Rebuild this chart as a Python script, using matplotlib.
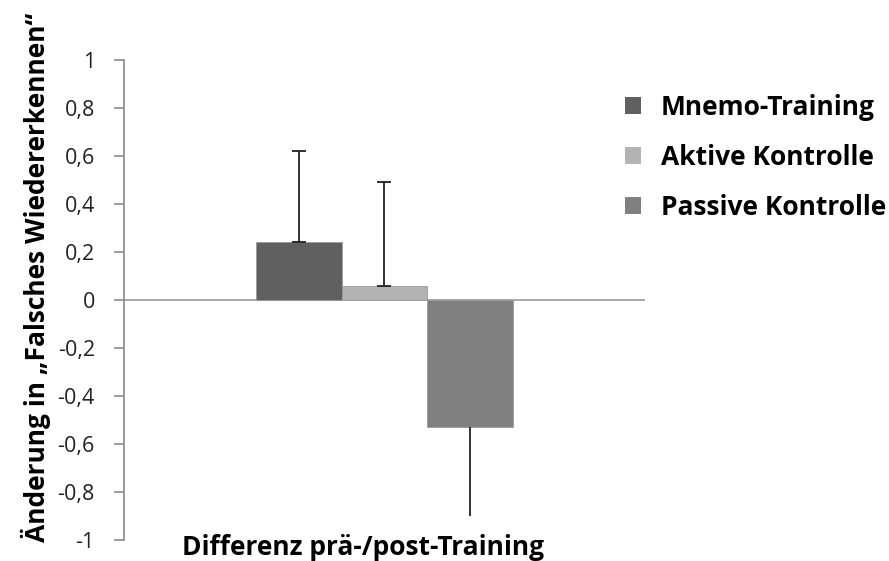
import matplotlib
matplotlib.use("Agg")
import matplotlib.pyplot as plt
from matplotlib.ticker import FuncFormatter

series = ["Mnemo-Training", "Aktive Kontrolle", "Passive Kontrolle"]
values = [0.24, 0.06, -0.53]
errors = [0.38, 0.43, 0.37]
colors = ["#606060", "#b3b3b3", "#808080"]
category = "Differenz prä-/post-Training"
y_label = "Änderung in \u201eFalsches Wiedererkennen\u201c"
y_ticks = [-1, -0.8, -0.6, -0.4, -0.2, 0, 0.2, 0.4, 0.6, 0.8, 1]

plt.rcParams['font.family'] = ['Open Sans', 'DejaVu Sans']

fig = plt.figure(figsize=(8.89, 5.61), dpi=100)
ax = fig.add_axes([0.1395, 0.0374, 0.586, 0.856])

w = 0.165
offsets = [-w, 0, w]
for name, v, e, c, o in zip(series, values, errors, colors, offsets):
    ax.bar(o, v, width=w, color=c, edgecolor="#9a9a9a", linewidth=0.6, label=name, zorder=2)
    if v >= 0:
        ax.errorbar(o, v, yerr=[[0], [e]], fmt="none", ecolor="#222222", elinewidth=1.3,
                    capsize=5, capthick=1.3, zorder=3)
    else:
        ax.errorbar(o, v, yerr=[[e], [0]], fmt="none", ecolor="#222222", elinewidth=1.3,
                    capsize=0, zorder=3)

ax.axhline(0, color="#999999", linewidth=1.2, zorder=1)
ax.set_xlim(-0.5, 0.5)
ax.set_ylim(-1, 1)
ax.set_yticks(y_ticks)
ax.yaxis.set_major_formatter(FuncFormatter(lambda v, p: ("%g" % round(v, 1)).replace(".", ",")))
ax.set_xticks([])
for s in ["top", "right", "bottom"]:
    ax.spines[s].set_visible(False)
ax.spines["left"].set_color("#8a8a8a")
ax.spines["left"].set_linewidth(1.2)
ax.tick_params(axis="y", direction="out", length=7, color="#8a8a8a", width=1.2,
               labelsize=15.5, pad=14, labelcolor="#222222")

fig.text(0.408, 0.024, category, ha="center", va="center", fontsize=19, fontweight="bold")
fig.text(0.040, 0.505, y_label, rotation=90, ha="center", va="center", fontsize=19, fontweight="bold")

leg = fig.legend(loc="upper left", bbox_to_anchor=(0.703, 0.833), frameon=False,
                 prop={"size": 19, "weight": "bold"}, handlelength=0.6, handleheight=0.6,
                 handletextpad=0.75, labelspacing=0.88, borderpad=0, borderaxespad=0)
for h in leg.legend_handles:
    h.set_edgecolor("none")

fig.savefig("out.png", dpi=100)
